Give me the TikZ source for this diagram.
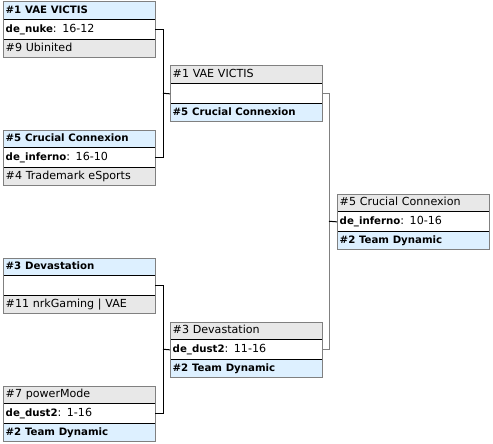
\documentclass[tikz,border=0pt]{standalone}
\usepackage{fontspec}
\setmainfont{DejaVu Sans}
\definecolor{winfill}{HTML}{DDF0FF}
\definecolor{losefill}{HTML}{E8E8E8}
\definecolor{edgegray}{HTML}{808080}
\newcommand{\wn}[1]{{\fontsize{10.2}{12}\selectfont\bfseries #1}}
\newcommand{\matchbox}[8]{%
  \node[row,fill=#4,minimum height=17.5pt] (#1t) at (#2,#3) {#5};
  \node[row,fill=white,minimum height=19.5pt] (#1m) at (#1t.south west) {#6};
  \node[row,fill=#7,minimum height=17.5pt] (#1b) at (#1m.south west) {#8};
  \draw[sepline] (#1t.south west) -- (#1t.south east);
  \draw[sepline] (#1m.south west) -- (#1m.south east);
  \draw[outerline] (#1t.north west) rectangle (#1b.south east);
}
\begin{document}
\begin{tikzpicture}[x=1pt,y=-1pt,
  row/.style={anchor=north west, inner xsep=2.5pt, inner ysep=0pt,
    text width=147pt, minimum width=152pt, align=left,
    text height=8pt, text depth=2.5pt,
    font=\fontsize{11.1}{12}\selectfont},
  sepline/.style={line width=1pt, black},
  outerline/.style={line width=1pt, edgegray},
  conn/.style={line width=1pt, black},
  conngray/.style={line width=1pt, edgegray}]
\useasboundingbox (0,0) rectangle (493,444);
% round 1
\matchbox{a}{3}{2}{winfill}{\wn{\#1 VAE VICTIS}}{\wn{de\_nuke}: 16-12}{losefill}{\#9 Ubinited}
\matchbox{b}{3}{130}{winfill}{\wn{\#5 Crucial Connexion}}{\wn{de\_inferno}: 16-10}{losefill}{\#4 Trademark eSports}
\matchbox{c}{3}{258}{winfill}{\wn{\#3 Devastation}}{}{losefill}{\#11 nrkGaming | VAE}
\matchbox{d}{3}{386}{losefill}{\#7 powerMode}{\wn{de\_dust2}: 1-16}{winfill}{\wn{\#2 Team Dynamic}}
% round 2
\matchbox{e}{170}{66}{losefill}{\#1 VAE VICTIS}{}{winfill}{\wn{\#5 Crucial Connexion}}
\matchbox{f}{170}{322}{losefill}{\#3 Devastation}{\wn{de\_dust2}: 11-16}{winfill}{\wn{\#2 Team Dynamic}}
% final
\matchbox{g}{337}{194}{losefill}{\#5 Crucial Connexion}{\wn{de\_inferno}: 10-16}{winfill}{\wn{\#2 Team Dynamic}}
% connectors
\coordinate (j1) at (163,93.25);
\coordinate (j2) at (163,349.25);
\coordinate (j3) at (329,221.25);
\draw[conn] (am.east) -- (am.east -| j1) |- (bm.east);
\draw[conn] (j1) -- (em.west);
\draw[conn] (cm.east) -- (cm.east -| j2) |- (dm.east);
\draw[conn] (j2) -- (fm.west);
\draw[conngray] (em.east) -- (em.east -| j3) |- (fm.east);
\draw[conn] (j3) -- (gm.west);
\end{tikzpicture}
\end{document}
